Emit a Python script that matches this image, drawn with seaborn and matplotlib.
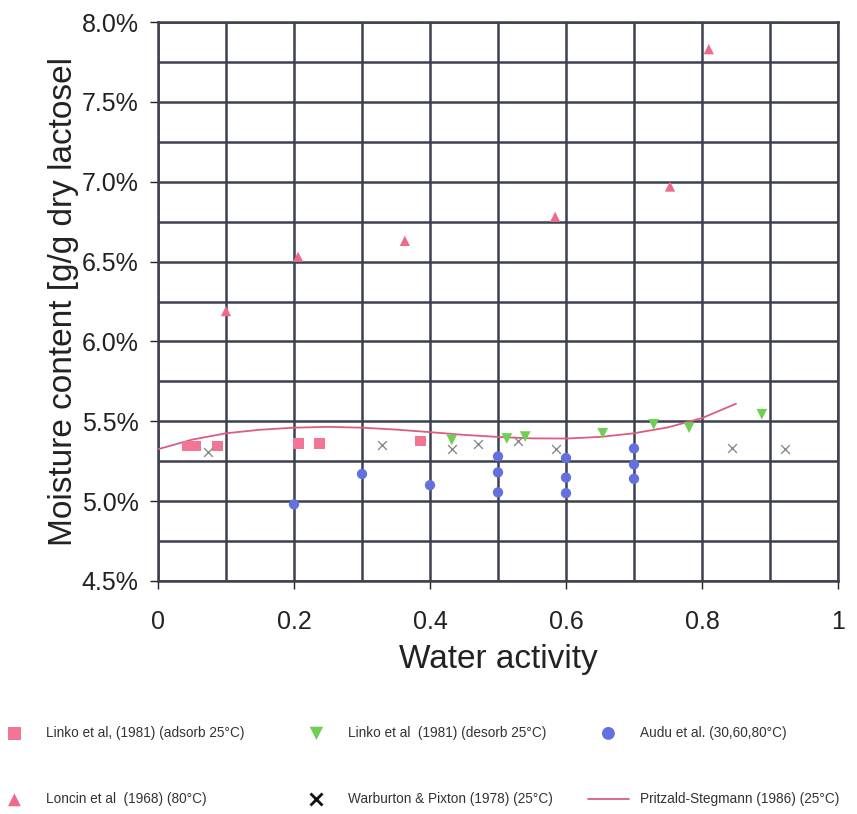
import matplotlib
matplotlib.use("Agg")
import matplotlib.pyplot as plt
import seaborn as sns
import pandas as pd
from matplotlib.ticker import MultipleLocator, FuncFormatter
from matplotlib.lines import Line2D

# ---- data (water activity, moisture content in %) ----
linko_ads_aw = [0.043, 0.055, 0.088, 0.207, 0.237, 0.386]
linko_ads_mc = [5.345, 5.345, 5.346, 5.36, 5.36, 5.376]

linko_des_aw = [0.432, 0.513, 0.540, 0.654, 0.729, 0.781, 0.888]
linko_des_mc = [5.383, 5.392, 5.404, 5.425, 5.481, 5.46, 5.544]

audu_aw = [0.2, 0.3, 0.4, 0.5, 0.5, 0.5, 0.6, 0.6, 0.6, 0.7, 0.7, 0.7]
audu_mc = [4.98, 5.17, 5.10, 5.28, 5.18, 5.055, 5.27, 5.148, 5.05, 5.33, 5.23, 5.14]

loncin_aw = [0.10, 0.206, 0.363, 0.584, 0.753, 0.81]
loncin_mc = [6.19, 6.53, 6.63, 6.78, 6.97, 7.83]

warb_aw = [0.074, 0.33, 0.432, 0.471, 0.53, 0.585, 0.844, 0.922]
warb_mc = [5.308, 5.35, 5.325, 5.356, 5.377, 5.325, 5.331, 5.325]

pritz_aw = [0.0, 0.05, 0.10, 0.15, 0.20, 0.25, 0.30, 0.35, 0.40, 0.45,
            0.50, 0.55, 0.60, 0.65, 0.70, 0.75, 0.80, 0.85]
pritz_mc = [5.325, 5.385, 5.425, 5.447, 5.46, 5.465, 5.46, 5.448, 5.432, 5.415,
            5.402, 5.393, 5.392, 5.402, 5.425, 5.462, 5.52, 5.61]

labels = ["Linko et al, (1981) (adsorb 25°C)",
          "Linko et al  (1981) (desorb 25°C)",
          "Audu et al. (30,60,80°C)",
          "Loncin et al  (1968) (80°C)",
          "Warburton & Pixton (1978) (25°C)",
          "Pritzald-Stegmann (1986) (25°C)"]

x_ticks = [0, 0.2, 0.4, 0.6, 0.8, 1]
x_tick_labels = ["0", "0.2", "0.4", "0.6", "0.8", "1"]

sns.set_theme(style="white")
plt.rcParams['font.family'] = ['Liberation Sans', 'DejaVu Sans']

fig = plt.figure(figsize=(8.57, 8.14), dpi=100)
ax = fig.add_axes([158/857, 1-581/814, (838-158)/857, (581-22)/814])

grid_c = '#3d404e'

sns.lineplot(x=pritz_aw, y=pritz_mc, ax=ax, color='#dc5c80', lw=1.3,
             label=labels[5], zorder=4)
sns.scatterplot(x=linko_ads_aw, y=linko_ads_mc, ax=ax, marker='s', s=60,
                color='#f27595', edgecolor='none', label=labels[0], zorder=5)
sns.scatterplot(x=linko_des_aw, y=linko_des_mc, ax=ax, marker='v', s=60,
                color='#6fcf55', edgecolor='none', label=labels[1], zorder=5)
sns.scatterplot(x=audu_aw, y=audu_mc, ax=ax, marker='o', s=55,
                color='#6470df', edgecolor='none', label=labels[2], zorder=5)
sns.scatterplot(x=loncin_aw, y=loncin_mc, ax=ax, marker='^', s=55,
                color='#ec6a8a', edgecolor='none', label=labels[3], zorder=5)
sns.scatterplot(x=warb_aw, y=warb_mc, ax=ax, marker='x', s=40,
                color='#8a8a8a', linewidth=1.0, label=labels[4], zorder=5)

ax.set_xlim(0, 1)
ax.set_ylim(4.5, 8.0)
ax.set_xticks(x_ticks)
ax.set_xticklabels(x_tick_labels)
ax.xaxis.set_minor_locator(MultipleLocator(0.1))
ax.yaxis.set_major_locator(MultipleLocator(0.5))
ax.yaxis.set_minor_locator(MultipleLocator(0.25))
ax.yaxis.set_major_formatter(FuncFormatter(lambda v, p: f"{v:.1f}%"))

ax.grid(which='both', color=grid_c, lw=1.8)
ax.set_axisbelow(True)
for s in ax.spines.values():
    s.set_color(grid_c)
    s.set_linewidth(1.8)

ax.tick_params(axis='both', which='major', labelsize=18, colors='#222222',
               length=6, width=1, direction='out', pad=8)
ax.tick_params(axis='y', which='minor', length=6, width=1, color='#555555',
               direction='out')
ax.tick_params(axis='x', which='minor', length=0)
ax.tick_params(axis='x', which='major', pad=15)
ax.tick_params(left=True, bottom=True)

ax.set_xlabel("Water activity", fontsize=24, color='#222222', labelpad=7)
ax.set_ylabel("Moisture content [g/g dry lactosel", fontsize=24,
              color='#222222', labelpad=2)

handles, labs = ax.get_legend_handles_labels()
hmap = dict(zip(labs, handles))
ax.get_legend().remove()

# legend handle for the crosses: black bold X as in the reference key
hmap[labels[4]] = Line2D([], [], ls='none', marker='x', color='#111111',
                         markersize=6.5, markeredgewidth=2)

cols = [(labels[0], labels[3]), (labels[1], labels[4]), (labels[2], labels[5])]
col_x = [-6, 296, 588]
for (a, b), xpx in zip(cols, col_x):
    fig.legend([hmap[a], hmap[b]], [a, b], loc='upper left',
               bbox_to_anchor=(xpx/857, 1-726/814), frameon=False,
               fontsize=9.8, handlelength=3.0, handletextpad=0.8,
               borderpad=0, borderaxespad=0, labelspacing=3.85,
               markerscale=1.25, labelcolor='#333333')

fig.savefig("out.png", dpi=100)
